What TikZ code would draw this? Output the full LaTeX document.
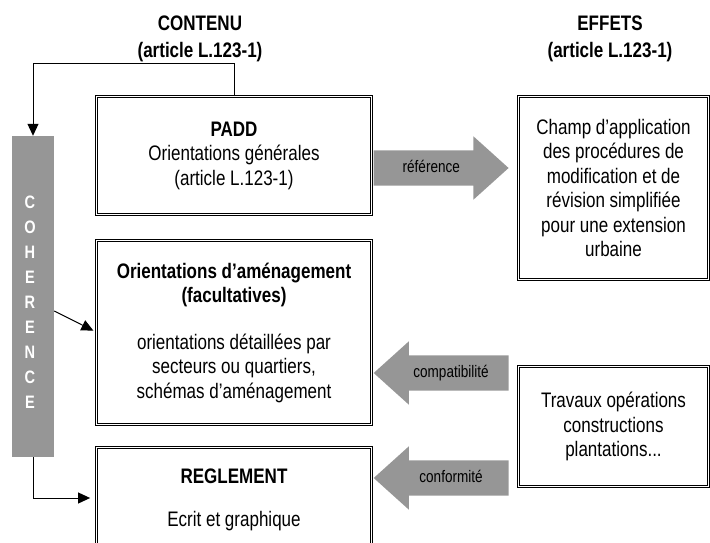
\documentclass[tikz,border=0pt]{standalone}
\usepackage{fontspec}
\setmainfont{Liberation Sans}[FakeStretch=0.81]
\usetikzlibrary{arrows.meta,shapes.arrows}
\definecolor{shade}{RGB}{150,150,150}

\begin{document}
\begin{tikzpicture}[x=1pt,y=-1pt,
  box/.style={draw,double,double distance=1.4pt,line width=0.8pt,inner sep=0pt,align=center,
    font=\fontsize{21}{24.5}\selectfont},
  title/.style={align=center,font=\bfseries\fontsize{21}{27}\selectfont},
  link/.style={line width=1pt,-{Triangle[length=12pt,width=11pt]}},
  bigarrow/.style={single arrow,fill=shade,minimum height=135pt,single arrow head extend=14pt,
    single arrow tip angle=84,inner xsep=4pt,inner ysep=10pt,text height=12pt,text depth=3pt,
    font=\fontsize{16.7}{18}\selectfont}]
\useasboundingbox (0,0) rectangle (710,543);
\clip (0,0) rectangle (710,543);

% titres
\node[title] (contenu) at (200,38.5) {CONTENU\\(article L.123-1)};
\node[title] (effets) at (610,38.5) {EFFETS\\(article L.123-1)};

% colonne coherence
\node[fill=shade,minimum width=42pt,minimum height=321pt,inner sep=0pt] (bar) at (33,296.5) {};
\node[text=white,align=center,font=\bfseries\fontsize{18}{25}\selectfont] (coh) at (30,302.5)
  {C\\O\\H\\E\\R\\E\\N\\C\\E};

% contenu
\node[box,minimum width=275pt,minimum height=118pt] (padd) at (234,155.5)
  {\textbf{PADD}\\Orientations générales\\(article L.123-1)};
\node[box,minimum width=275pt,minimum height=184pt] (orient) at (234,332.5)
  {\textbf{Orientations d’aménagement}\\\textbf{(facultatives)}\\[22pt]
   orientations détaillées par\\secteurs ou quartiers,\\schémas d’aménagement};
\node[box,minimum width=275pt,minimum height=105pt] (regl) at (234,500)
  {\textbf{REGLEMENT}\\[18.5pt]Ecrit et graphique};

% effets
\node[box,minimum width=190pt,minimum height=183pt] (champ) at (613.5,188)
  {Champ d’application\\des procédures de\\modification et de\\révision simplifiée\\pour une extension\\urbaine};
\node[box,minimum width=190pt,minimum height=120pt] (travaux) at (613.5,426.5)
  {Travaux opérations\\constructions\\plantations...};

% grosses fleches
\node[bigarrow,anchor=tail,xshift=1.5pt] (ref) at (padd.east |- 0,168) {référence};
\node[bigarrow,shape border rotate=180,anchor=tip,xshift=1.5pt] (compat) at (orient.east |- 0,373) {compatibilité};
\node[bigarrow,shape border rotate=180,anchor=tip,xshift=1.5pt] (conf) at (regl.east |- 0,478) {conformité};

% liens
\draw[link] (padd.north) -- (padd.north |- 0,64) -| (bar.north);
\draw[link,shorten >=3pt] (bar.east |- 0,311) -- (orient.west |- 0,332);
\draw[link,shorten >=6pt] (bar.south) |- (regl.west |- 0,498);
\end{tikzpicture}
\end{document}
